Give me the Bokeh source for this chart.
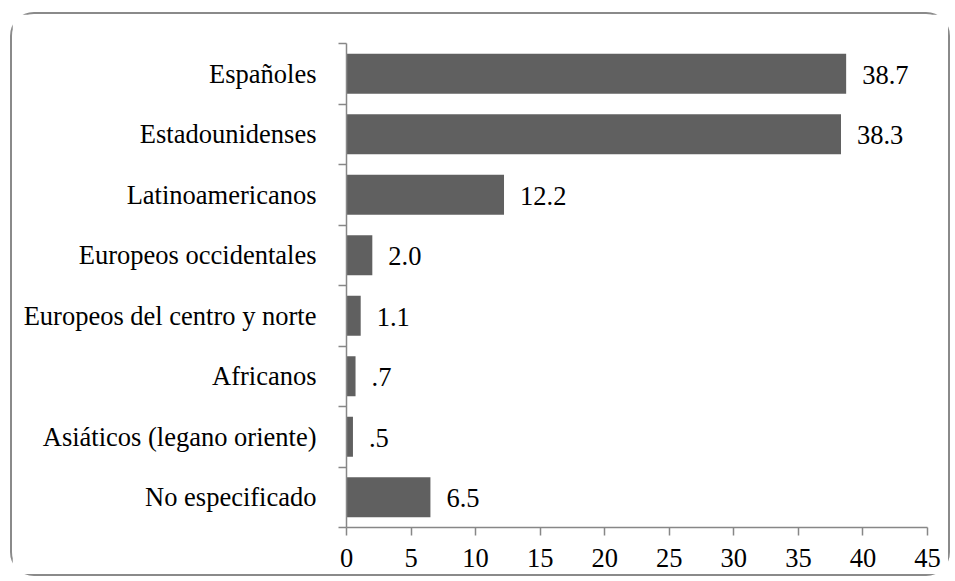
from bokeh.plotting import figure
from bokeh.models import FixedTicker, Range1d, ColumnDataSource
from bokeh.core.properties import value
from bokeh.embed import file_html
from bokeh.resources import INLINE

categories = ["Españoles", "Estadounidenses", "Latinoamericanos", "Europeos occidentales",
              "Europeos del centro y norte", "Africanos", "Asiáticos (legano oriente)", "No especificado"]
values = [38.7, 38.3, 12.2, 2.0, 1.1, 0.7, 0.5, 6.5]
x_ticks = [0, 5, 10, 15, 20, 25, 30, 35, 40, 45]

n = len(categories)
centers = [n - i - 0.5 for i in range(n)]
labels = [f"{v:.1f}".lstrip("0") if v < 1 else f"{v:.1f}" for v in values]

FONT = "Liberation Serif"
FS = "26.5px"
GREY = "#878787"

src = ColumnDataSource(dict(cat=categories, val=values, y=centers, lab=labels))

p = figure(output_backend="svg", toolbar_location=None,
           frame_width=581, frame_height=484,
           min_border_left=334, min_border_right=21, min_border_top=29, min_border_bottom=47,
           x_range=Range1d(0, 45), y_range=Range1d(0, n))
p.margin = (12, 0, 0, 10)
p.styles = {"border": "2px solid #8a8a8a", "border-radius": "24px"}
p.outline_line_color = None
p.xgrid.grid_line_color = None
p.ygrid.grid_line_color = None

p.hbar(y="y", right="val", left=0, height=0.66, source=src, fill_color="#606060", line_color=None)
p.text(x="val", y="y", text="lab", source=src, x_offset=16, y_offset=1, text_baseline="middle", text_align="left",
       text_font=value(FONT), text_font_size=FS, text_color="black")

xa = p.xaxis[0]
xa.ticker = FixedTicker(ticks=x_ticks, minor_ticks=[])
xa.axis_line_color = GREY
xa.axis_line_width = 1.5
xa.major_tick_line_color = GREY
xa.major_tick_line_width = 1.5
xa.major_tick_out = 8
xa.major_tick_in = 0
xa.minor_tick_out = 0
xa.major_label_standoff = 13
xa.major_label_text_font = FONT
xa.major_label_text_font_size = FS
xa.major_label_text_color = "black"

ya = p.yaxis[0]
ya.ticker = FixedTicker(ticks=centers, minor_ticks=list(range(n + 1)))
ya.major_label_overrides = {c: cat for c, cat in zip(centers, categories)}
ya.axis_line_color = GREY
ya.axis_line_width = 1.5
ya.major_tick_line_color = None
ya.major_tick_out = 0
ya.major_tick_in = 0
ya.minor_tick_line_color = GREY
ya.minor_tick_line_width = 1.5
ya.minor_tick_out = 8
ya.minor_tick_in = 0
ya.major_label_standoff = 22
ya.major_label_text_font = FONT
ya.major_label_text_font_size = FS
ya.major_label_text_color = "black"

open("out.html", "w").write(file_html(p, INLINE))
